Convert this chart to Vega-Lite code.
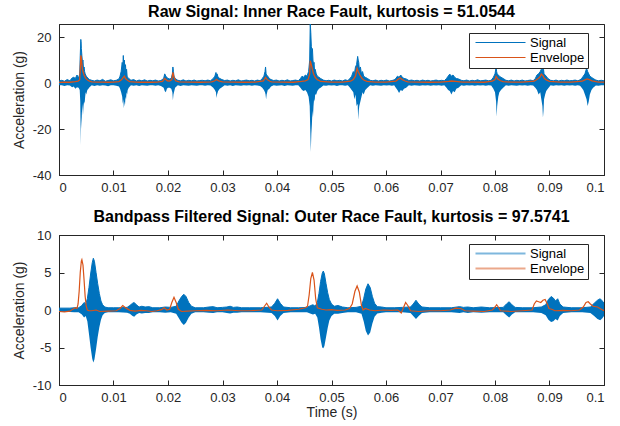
{
 "$schema": "https://vega.github.io/schema/vega-lite/v6.json",
 "padding": {"left": 11, "top": 3, "right": 4, "bottom": 4},
 "background": "white",
 "config": {
  "font": "Liberation Sans",
  "locale": {"number": {"decimal": ".", "thousands": ",", "grouping": [3], "currency": ["$", ""], "minus": "-"}},
  "view": {"stroke": "#262626", "strokeWidth": 1},
  "axis": {"domainColor": "#262626", "tickColor": "#262626", "labelColor": "#262626", "titleColor": "#262626", "labelFont": "Liberation Sans", "titleFont": "Liberation Sans", "labelFontSize": 13, "titleFontSize": 14, "titleFontWeight": "normal", "grid": false, "tickSize": -5},
  "axisX": {"labelPadding": 11},
  "axisY": {"labelPadding": 13},
  "title": {"fontSize": 16, "fontWeight": "bold", "font": "Liberation Sans", "color": "#000000", "offset": 4},
  "legend": {"labelFont": "Liberation Sans", "labelFontSize": 13, "labelColor": "#000000"},
  "concat": {"spacing": 13}
 },
 "datasets": {
  "raw": [
   {"t":0,"hi":0.9,"lo":-0.9},{"t":0.0005,"hi":1.2,"lo":-1.0},{"t":0.001,"hi":0.8,"lo":-1.3},{"t":0.0015,"hi":1.5,"lo":-0.9},{"t":0.002,"hi":1.0,"lo":-1.1},{"t":0.0024,"hi":2.2,"lo":-1.8},
   {"t":0.0027,"hi":2.5,"lo":-1.5},{"t":0.003,"hi":2.0,"lo":-2.5},{"t":0.0033,"hi":3.5,"lo":-1.8},{"t":0.0036,"hi":2.2,"lo":-2.0},{"t":0.0038,"hi":4.0,"lo":-3.0},{"t":0.0039,"hi":12,"lo":-8},{"t":0.004,"hi":19,"lo":-27},{"t":0.00405,"hi":18,"lo":-15},{"t":0.0041,"hi":15,"lo":-20},{"t":0.0042,"hi":12,"lo":-13},{"t":0.0043,"hi":9,"lo":-9},{"t":0.0044,"hi":10,"lo":-14},{"t":0.0045,"hi":6,"lo":-10},{"t":0.0046,"hi":7,"lo":-8},{"t":0.0047,"hi":5,"lo":-9},{"t":0.0048,"hi":4,"lo":-6},{"t":0.0049,"hi":3.5,"lo":-4},{"t":0.005,"hi":3,"lo":-5},{"t":0.0052,"hi":2.5,"lo":-3},{"t":0.0054,"hi":2,"lo":-2.5},{"t":0.0056,"hi":1.5,"lo":-1.8},
   {"t":0.006,"hi":1.2,"lo":-1.0},{"t":0.0065,"hi":0.9,"lo":-1.3},{"t":0.007,"hi":1.3,"lo":-0.9},{"t":0.0075,"hi":1.0,"lo":-1.2},{"t":0.008,"hi":1.6,"lo":-1.0},{"t":0.0085,"hi":0.8,"lo":-1.1},{"t":0.009,"hi":1.1,"lo":-1.4},{"t":0.0095,"hi":1.4,"lo":-0.9},{"t":0.01,"hi":1.0,"lo":-1.0},{"t":0.0105,"hi":1.2,"lo":-1.2},{"t":0.011,"hi":1.8,"lo":-1.5},
   {"t":0.0112,"hi":3,"lo":-2.5},{"t":0.0114,"hi":5,"lo":-4},{"t":0.0116,"hi":9,"lo":-6},{"t":0.0117,"hi":6,"lo":-9},{"t":0.0118,"hi":12,"lo":-7},{"t":0.0119,"hi":7,"lo":-11},{"t":0.012,"hi":10,"lo":-8},{"t":0.0121,"hi":5,"lo":-10},{"t":0.0122,"hi":8,"lo":-6},{"t":0.0123,"hi":4,"lo":-7},{"t":0.0124,"hi":6,"lo":-4},{"t":0.0125,"hi":3,"lo":-5},{"t":0.0126,"hi":2.5,"lo":-3},{"t":0.0128,"hi":2,"lo":-2},
   {"t":0.0132,"hi":1.2,"lo":-1.0},{"t":0.0137,"hi":1.5,"lo":-1.2},{"t":0.0142,"hi":0.9,"lo":-1.0},{"t":0.0147,"hi":1.3,"lo":-1.3},{"t":0.0152,"hi":1.0,"lo":-0.9},{"t":0.0157,"hi":1.4,"lo":-1.1},{"t":0.0162,"hi":0.9,"lo":-1.2},{"t":0.0167,"hi":1.2,"lo":-0.9},{"t":0.0172,"hi":1.0,"lo":-1.0},{"t":0.0177,"hi":1.3,"lo":-1.2},{"t":0.0182,"hi":0.9,"lo":-1.0},{"t":0.0187,"hi":1.1,"lo":-1.3},
   {"t":0.0192,"hi":2,"lo":-2},{"t":0.0194,"hi":4,"lo":-3.5},{"t":0.0196,"hi":3,"lo":-4},{"t":0.0198,"hi":2.5,"lo":-2.5},{"t":0.02,"hi":2,"lo":-2},{"t":0.0203,"hi":1.8,"lo":-2},{"t":0.0206,"hi":2,"lo":-2.5},{"t":0.0208,"hi":4,"lo":-4},{"t":0.0209,"hi":7,"lo":-7.5},{"t":0.021,"hi":5,"lo":-5},{"t":0.0211,"hi":3,"lo":-4},{"t":0.0213,"hi":2,"lo":-2},
   {"t":0.0218,"hi":1.2,"lo":-1.0},{"t":0.0223,"hi":1.0,"lo":-1.3},{"t":0.0228,"hi":1.4,"lo":-0.9},{"t":0.0233,"hi":0.9,"lo":-1.1},{"t":0.0238,"hi":1.2,"lo":-1.2},{"t":0.0243,"hi":1.0,"lo":-0.9},{"t":0.0248,"hi":1.3,"lo":-1.1},{"t":0.0253,"hi":0.9,"lo":-1.2},{"t":0.0258,"hi":1.1,"lo":-1.0},{"t":0.0263,"hi":1.2,"lo":-1.0},{"t":0.0268,"hi":1.0,"lo":-1.2},{"t":0.0273,"hi":1.3,"lo":-0.9},{"t":0.0278,"hi":1.0,"lo":-1.1},
   {"t":0.0283,"hi":2,"lo":-2},{"t":0.0286,"hi":3,"lo":-3},{"t":0.0288,"hi":4.6,"lo":-4},{"t":0.0289,"hi":3.5,"lo":-6.5},{"t":0.029,"hi":4,"lo":-5},{"t":0.0292,"hi":2.5,"lo":-3.5},{"t":0.0295,"hi":2,"lo":-2.5},{"t":0.0299,"hi":1.5,"lo":-1.8},
   {"t":0.0304,"hi":1.1,"lo":-1.0},{"t":0.0309,"hi":1.3,"lo":-1.2},{"t":0.0314,"hi":0.9,"lo":-1.0},{"t":0.0319,"hi":1.2,"lo":-1.3},{"t":0.0324,"hi":1.0,"lo":-0.9},{"t":0.0329,"hi":1.4,"lo":-1.1},{"t":0.0334,"hi":0.9,"lo":-1.2},{"t":0.0339,"hi":1.1,"lo":-1.0},{"t":0.0344,"hi":1.3,"lo":-1.1},{"t":0.0349,"hi":1.0,"lo":-0.9},{"t":0.0354,"hi":1.2,"lo":-1.2},{"t":0.0359,"hi":0.9,"lo":-1.0},{"t":0.0364,"hi":1.3,"lo":-1.1},{"t":0.0369,"hi":1.0,"lo":-1.3},
   {"t":0.0373,"hi":2,"lo":-2},{"t":0.0376,"hi":3,"lo":-3},{"t":0.0378,"hi":5,"lo":-4},{"t":0.0379,"hi":7,"lo":-5},{"t":0.038,"hi":4,"lo":-7},{"t":0.0381,"hi":3.5,"lo":-5},{"t":0.0383,"hi":3,"lo":-3},{"t":0.0386,"hi":2,"lo":-2.5},{"t":0.0389,"hi":1.5,"lo":-1.5},
   {"t":0.0394,"hi":1.1,"lo":-1.0},{"t":0.0399,"hi":1.3,"lo":-1.2},{"t":0.0404,"hi":0.9,"lo":-1.1},{"t":0.0409,"hi":1.2,"lo":-0.9},{"t":0.0414,"hi":1.0,"lo":-1.3},{"t":0.0419,"hi":1.4,"lo":-1.0},{"t":0.0424,"hi":0.9,"lo":-1.1},{"t":0.0429,"hi":1.1,"lo":-1.2},{"t":0.0434,"hi":1.3,"lo":-0.9},{"t":0.0439,"hi":1.0,"lo":-1.0},
   {"t":0.0443,"hi":2,"lo":-2},{"t":0.0446,"hi":3,"lo":-3},{"t":0.0449,"hi":2.5,"lo":-3.5},{"t":0.0452,"hi":3.5,"lo":-3},{"t":0.0455,"hi":3,"lo":-4},{"t":0.0458,"hi":5,"lo":-6},{"t":0.046,"hi":10,"lo":-10},{"t":0.0461,"hi":26,"lo":-20},{"t":0.0462,"hi":22,"lo":-30},{"t":0.0463,"hi":16,"lo":-22},{"t":0.0464,"hi":14,"lo":-18},{"t":0.0465,"hi":15,"lo":-12},{"t":0.0466,"hi":10,"lo":-15},{"t":0.0467,"hi":8,"lo":-10},{"t":0.0468,"hi":9,"lo":-7},{"t":0.0469,"hi":5,"lo":-8},{"t":0.047,"hi":6,"lo":-5},{"t":0.0472,"hi":4,"lo":-5},{"t":0.0474,"hi":3,"lo":-3.5},{"t":0.0477,"hi":2.5,"lo":-2.5},{"t":0.048,"hi":2,"lo":-2},
   {"t":0.0485,"hi":1.3,"lo":-1.1},{"t":0.049,"hi":1.0,"lo":-1.2},{"t":0.0495,"hi":1.2,"lo":-0.9},{"t":0.05,"hi":0.9,"lo":-1.1},{"t":0.0505,"hi":1.3,"lo":-1.0},{"t":0.051,"hi":1.0,"lo":-1.3},{"t":0.0515,"hi":1.2,"lo":-1.0},{"t":0.052,"hi":0.9,"lo":-0.9},{"t":0.0525,"hi":1.4,"lo":-1.2},{"t":0.053,"hi":1.1,"lo":-1.0},
   {"t":0.0534,"hi":2,"lo":-2},{"t":0.0537,"hi":3,"lo":-3},{"t":0.054,"hi":5,"lo":-4},{"t":0.0542,"hi":4,"lo":-7},{"t":0.0544,"hi":7,"lo":-5},{"t":0.0546,"hi":8,"lo":-10},{"t":0.0548,"hi":11.6,"lo":-9},{"t":0.0549,"hi":10,"lo":-16},{"t":0.055,"hi":9,"lo":-12},{"t":0.0551,"hi":6,"lo":-10},{"t":0.0553,"hi":7,"lo":-8},{"t":0.0555,"hi":4,"lo":-6},{"t":0.0557,"hi":5,"lo":-4},{"t":0.0559,"hi":3,"lo":-5},{"t":0.0562,"hi":2.5,"lo":-3},{"t":0.0566,"hi":2,"lo":-2},
   {"t":0.0571,"hi":1.2,"lo":-1.0},{"t":0.0576,"hi":1.0,"lo":-1.2},{"t":0.0581,"hi":1.3,"lo":-0.9},{"t":0.0586,"hi":0.9,"lo":-1.1},{"t":0.0591,"hi":1.2,"lo":-1.2},{"t":0.0596,"hi":1.0,"lo":-1.0},{"t":0.0601,"hi":1.3,"lo":-1.1},{"t":0.0606,"hi":0.9,"lo":-1.0},{"t":0.0611,"hi":1.1,"lo":-1.2},{"t":0.0615,"hi":1.4,"lo":-1.0},
   {"t":0.0618,"hi":2,"lo":-2},{"t":0.0621,"hi":3,"lo":-3},{"t":0.0624,"hi":2.5,"lo":-4.3},{"t":0.0627,"hi":3.5,"lo":-3},{"t":0.063,"hi":2.5,"lo":-3.5},{"t":0.0633,"hi":2,"lo":-2.5},{"t":0.0637,"hi":1.8,"lo":-2},
   {"t":0.0642,"hi":1.1,"lo":-1.0},{"t":0.0647,"hi":1.3,"lo":-1.2},{"t":0.0652,"hi":1.0,"lo":-0.9},{"t":0.0657,"hi":1.2,"lo":-1.1},{"t":0.0662,"hi":0.9,"lo":-1.2},{"t":0.0667,"hi":1.3,"lo":-1.0},{"t":0.0672,"hi":1.0,"lo":-1.1},{"t":0.0677,"hi":1.2,"lo":-0.9},{"t":0.0682,"hi":0.9,"lo":-1.2},{"t":0.0687,"hi":1.1,"lo":-1.0},{"t":0.0692,"hi":1.3,"lo":-1.1},{"t":0.0697,"hi":1.0,"lo":-1.0},{"t":0.0702,"hi":1.2,"lo":-1.2},{"t":0.0707,"hi":1.0,"lo":-1.0},
   {"t":0.0711,"hi":2,"lo":-2},{"t":0.0714,"hi":3,"lo":-3},{"t":0.0717,"hi":3.9,"lo":-3.5},{"t":0.072,"hi":3,"lo":-5},{"t":0.0723,"hi":3.5,"lo":-3.5},{"t":0.0726,"hi":2.5,"lo":-4},{"t":0.0729,"hi":2,"lo":-2.5},{"t":0.0733,"hi":1.8,"lo":-2},
   {"t":0.0738,"hi":1.2,"lo":-1.0},{"t":0.0743,"hi":1.0,"lo":-1.2},{"t":0.0748,"hi":1.3,"lo":-1.0},{"t":0.0753,"hi":0.9,"lo":-1.1},{"t":0.0758,"hi":1.2,"lo":-0.9},{"t":0.0763,"hi":1.0,"lo":-1.2},{"t":0.0768,"hi":1.4,"lo":-1.0},{"t":0.0773,"hi":1.0,"lo":-1.1},{"t":0.0778,"hi":1.1,"lo":-1.0},{"t":0.0783,"hi":1.3,"lo":-1.2},{"t":0.0788,"hi":1.0,"lo":-0.9},{"t":0.0793,"hi":1.2,"lo":-1.1},
   {"t":0.0797,"hi":2.5,"lo":-2.5},{"t":0.08,"hi":4,"lo":-4},{"t":0.0802,"hi":6.8,"lo":-8},{"t":0.0803,"hi":5,"lo":-14.6},{"t":0.0804,"hi":4,"lo":-10},{"t":0.0806,"hi":3.5,"lo":-6},{"t":0.0808,"hi":3,"lo":-4},{"t":0.0811,"hi":2.5,"lo":-3},{"t":0.0815,"hi":2,"lo":-2},
   {"t":0.082,"hi":1.2,"lo":-1.0},{"t":0.0825,"hi":1.0,"lo":-1.2},{"t":0.083,"hi":1.3,"lo":-0.9},{"t":0.0835,"hi":0.9,"lo":-1.1},{"t":0.084,"hi":1.2,"lo":-1.2},{"t":0.0845,"hi":1.0,"lo":-1.0},{"t":0.085,"hi":1.3,"lo":-1.1},{"t":0.0855,"hi":0.9,"lo":-1.0},{"t":0.086,"hi":1.1,"lo":-1.2},{"t":0.0865,"hi":1.3,"lo":-1.0},{"t":0.087,"hi":1.0,"lo":-1.1},
   {"t":0.0874,"hi":2,"lo":-2},{"t":0.0877,"hi":3.5,"lo":-3},{"t":0.088,"hi":4,"lo":-5},{"t":0.0883,"hi":5,"lo":-4},{"t":0.0885,"hi":6,"lo":-7},{"t":0.0887,"hi":6.8,"lo":-10},{"t":0.0888,"hi":5,"lo":-15},{"t":0.0889,"hi":6,"lo":-12},{"t":0.089,"hi":4,"lo":-7},{"t":0.0892,"hi":3.5,"lo":-5},{"t":0.0894,"hi":3,"lo":-3.5},{"t":0.0897,"hi":2,"lo":-2.5},
   {"t":0.0902,"hi":1.2,"lo":-1.0},{"t":0.0907,"hi":1.0,"lo":-1.2},{"t":0.0912,"hi":1.3,"lo":-1.0},{"t":0.0917,"hi":0.9,"lo":-1.1},{"t":0.0922,"hi":1.2,"lo":-0.9},{"t":0.0927,"hi":1.0,"lo":-1.2},{"t":0.0932,"hi":1.3,"lo":-1.0},{"t":0.0937,"hi":1.0,"lo":-1.1},{"t":0.0942,"hi":1.1,"lo":-1.0},{"t":0.0947,"hi":1.3,"lo":-1.2},{"t":0.0952,"hi":1.0,"lo":-0.9},{"t":0.0956,"hi":1.4,"lo":-1.2},
   {"t":0.0959,"hi":2,"lo":-2},{"t":0.0962,"hi":3,"lo":-3},{"t":0.0965,"hi":4,"lo":-5},{"t":0.0968,"hi":6.4,"lo":-7},{"t":0.097,"hi":5,"lo":-10},{"t":0.0972,"hi":4,"lo":-8},{"t":0.0974,"hi":3,"lo":-5},{"t":0.0977,"hi":2.5,"lo":-3},{"t":0.098,"hi":2,"lo":-2},
   {"t":0.0985,"hi":1.3,"lo":-1.1},{"t":0.099,"hi":1.0,"lo":-1.2},{"t":0.0995,"hi":1.2,"lo":-1.0},{"t":0.1,"hi":1.0,"lo":-1.0}
  ],
  "rawenv": [
   {"t":0,"env":0.3},{"t":0.001,"env":0.4},{"t":0.002,"env":0.35},{"t":0.003,"env":0.6},{"t":0.0035,"env":0.8},{"t":0.0038,"env":1.5},{"t":0.0039,"env":6},{"t":0.004,"env":12},{"t":0.0041,"env":11},{"t":0.0042,"env":8},{"t":0.0043,"env":6},{"t":0.0044,"env":5},{"t":0.0046,"env":3.5},{"t":0.0048,"env":2.5},{"t":0.005,"env":1.8},{"t":0.0053,"env":1.2},{"t":0.0056,"env":0.8},{"t":0.006,"env":0.5},{"t":0.007,"env":0.4},{"t":0.008,"env":0.45},{"t":0.009,"env":0.35},{"t":0.01,"env":0.4},
   {"t":0.011,"env":0.6},{"t":0.0115,"env":1.5},{"t":0.0118,"env":2.5},{"t":0.012,"env":3},{"t":0.0122,"env":2},{"t":0.0124,"env":1.6},{"t":0.0127,"env":1.0},{"t":0.013,"env":0.6},{"t":0.014,"env":0.4},{"t":0.015,"env":0.35},{"t":0.016,"env":0.4},{"t":0.017,"env":0.35},{"t":0.018,"env":0.4},
   {"t":0.019,"env":0.7},{"t":0.0194,"env":2},{"t":0.0196,"env":1.6},{"t":0.0199,"env":1.0},{"t":0.0203,"env":0.9},{"t":0.0207,"env":1.5},{"t":0.0209,"env":4.7},{"t":0.0211,"env":2.5},{"t":0.0214,"env":1.0},{"t":0.022,"env":0.5},{"t":0.024,"env":0.4},{"t":0.026,"env":0.35},
   {"t":0.028,"env":0.5},{"t":0.0286,"env":1.0},{"t":0.0289,"env":1.6},{"t":0.0293,"env":0.9},{"t":0.03,"env":0.5},{"t":0.032,"env":0.4},{"t":0.034,"env":0.35},{"t":0.036,"env":0.4},
   {"t":0.0375,"env":0.9},{"t":0.0379,"env":2.5},{"t":0.0382,"env":1.5},{"t":0.0387,"env":0.8},{"t":0.039,"env":0.5},{"t":0.041,"env":0.4},{"t":0.043,"env":0.35},
   {"t":0.0445,"env":0.7},{"t":0.0452,"env":1.0},{"t":0.0457,"env":1.5},{"t":0.046,"env":4},{"t":0.0461,"env":9.7},{"t":0.0463,"env":8},{"t":0.0465,"env":6},{"t":0.0467,"env":4},{"t":0.047,"env":2.5},{"t":0.0474,"env":1.5},{"t":0.0478,"env":1.0},{"t":0.048,"env":0.7},{"t":0.05,"env":0.4},{"t":0.052,"env":0.45},
   {"t":0.0535,"env":0.8},{"t":0.054,"env":1.5},{"t":0.0544,"env":3},{"t":0.0547,"env":6.4},{"t":0.0549,"env":5},{"t":0.0552,"env":3.5},{"t":0.0556,"env":2},{"t":0.056,"env":1.2},{"t":0.0565,"env":0.7},{"t":0.058,"env":0.4},{"t":0.06,"env":0.4},
   {"t":0.0618,"env":0.8},{"t":0.0622,"env":1.6},{"t":0.0626,"env":2.2},{"t":0.063,"env":1.5},{"t":0.0635,"env":0.9},{"t":0.064,"env":0.5},{"t":0.066,"env":0.4},{"t":0.068,"env":0.35},{"t":0.07,"env":0.45},
   {"t":0.0715,"env":0.7},{"t":0.072,"env":0.9},{"t":0.0728,"env":0.7},{"t":0.074,"env":0.45},{"t":0.076,"env":0.4},{"t":0.078,"env":0.35},
   {"t":0.0795,"env":0.8},{"t":0.08,"env":1.5},{"t":0.0802,"env":2.9},{"t":0.0805,"env":1.8},{"t":0.081,"env":1.0},{"t":0.0815,"env":0.6},{"t":0.083,"env":0.4},{"t":0.085,"env":0.4},
   {"t":0.0872,"env":0.8},{"t":0.0878,"env":1.8},{"t":0.0882,"env":2.5},{"t":0.0885,"env":3.9},{"t":0.0888,"env":3.2},{"t":0.089,"env":2.2},{"t":0.0894,"env":1.4},{"t":0.09,"env":0.7},{"t":0.092,"env":0.4},{"t":0.094,"env":0.4},
   {"t":0.096,"env":0.8},{"t":0.0965,"env":1.4},{"t":0.0969,"env":1.8},{"t":0.0973,"env":1.5},{"t":0.0978,"env":1.0},{"t":0.0985,"env":0.6},{"t":0.099,"env":0.45},{"t":0.1,"env":0.4}
  ],
  "bp": [
   {"t":0,"hi":0.25,"lo":-0.25},{"t":0.002,"hi":0.25,"lo":-0.25},{"t":0.0028,"hi":0.3,"lo":-0.3},{"t":0.0036,"hi":0.3,"lo":-0.3},{"t":0.0042,"hi":0.6,"lo":-0.6},{"t":0.0046,"hi":1.0,"lo":-1.0},{"t":0.0049,"hi":0.8,"lo":-0.8},
   {"t":0.0052,"hi":1.5,"lo":-1.5},{"t":0.0055,"hi":3.0,"lo":-3.2},{"t":0.0058,"hi":4.8,"lo":-5.0},{"t":0.0061,"hi":6.3,"lo":-6.5},{"t":0.0063,"hi":6.9,"lo":-7.0},{"t":0.0065,"hi":6.5,"lo":-6.6},{"t":0.0068,"hi":5.0,"lo":-5.2},{"t":0.0071,"hi":3.5,"lo":-3.6},{"t":0.0074,"hi":2.2,"lo":-2.3},{"t":0.0077,"hi":1.2,"lo":-1.3},{"t":0.008,"hi":0.7,"lo":-0.7},{"t":0.0084,"hi":0.4,"lo":-0.4},
   {"t":0.009,"hi":0.3,"lo":-0.3},{"t":0.01,"hi":0.3,"lo":-0.3},{"t":0.011,"hi":0.3,"lo":-0.3},{"t":0.0125,"hi":0.35,"lo":-0.35},{"t":0.013,"hi":0.6,"lo":-0.5},{"t":0.0135,"hi":0.9,"lo":-0.8},{"t":0.0138,"hi":1.0,"lo":-0.9},{"t":0.0142,"hi":0.7,"lo":-0.6},{"t":0.0147,"hi":0.4,"lo":-0.4},{"t":0.0152,"hi":0.5,"lo":-0.45},{"t":0.0158,"hi":0.4,"lo":-0.4},{"t":0.0165,"hi":0.45,"lo":-0.4},{"t":0.0172,"hi":0.3,"lo":-0.3},{"t":0.0185,"hi":0.3,"lo":-0.3},{"t":0.0195,"hi":0.4,"lo":-0.35},{"t":0.0205,"hi":0.35,"lo":-0.3},
   {"t":0.0215,"hi":0.5,"lo":-0.5},{"t":0.022,"hi":1.2,"lo":-1.1},{"t":0.0225,"hi":1.8,"lo":-1.7},{"t":0.0229,"hi":2.1,"lo":-2.0},{"t":0.0233,"hi":1.8,"lo":-1.7},{"t":0.0238,"hi":1.0,"lo":-1.0},{"t":0.0243,"hi":0.5,"lo":-0.5},{"t":0.025,"hi":0.3,"lo":-0.3},{"t":0.0265,"hi":0.3,"lo":-0.3},{"t":0.0275,"hi":0.4,"lo":-0.35},{"t":0.0283,"hi":0.45,"lo":-0.4},{"t":0.029,"hi":0.3,"lo":-0.3},{"t":0.03,"hi":0.35,"lo":-0.3},{"t":0.0308,"hi":0.4,"lo":-0.4},{"t":0.0314,"hi":0.5,"lo":-0.45},{"t":0.032,"hi":0.35,"lo":-0.35},{"t":0.0327,"hi":0.4,"lo":-0.35},{"t":0.0335,"hi":0.3,"lo":-0.3},{"t":0.035,"hi":0.3,"lo":-0.3},{"t":0.037,"hi":0.3,"lo":-0.3},
   {"t":0.039,"hi":0.4,"lo":-0.4},{"t":0.0396,"hi":0.9,"lo":-0.8},{"t":0.0401,"hi":1.5,"lo":-1.4},{"t":0.0406,"hi":0.9,"lo":-0.8},{"t":0.0412,"hi":0.4,"lo":-0.4},{"t":0.0425,"hi":0.3,"lo":-0.3},{"t":0.044,"hi":0.3,"lo":-0.3},{"t":0.0455,"hi":0.35,"lo":-0.3},{"t":0.0462,"hi":0.6,"lo":-0.5},{"t":0.0466,"hi":0.7,"lo":-0.6},{"t":0.047,"hi":0.5,"lo":-0.5},
   {"t":0.0474,"hi":1.0,"lo":-1.0},{"t":0.0477,"hi":2.2,"lo":-2.3},{"t":0.048,"hi":3.8,"lo":-3.9},{"t":0.0483,"hi":4.9,"lo":-5.0},{"t":0.0485,"hi":5.2,"lo":-5.1},{"t":0.0487,"hi":4.8,"lo":-4.8},{"t":0.049,"hi":3.5,"lo":-3.6},{"t":0.0493,"hi":2.3,"lo":-2.4},{"t":0.0496,"hi":1.4,"lo":-1.4},{"t":0.05,"hi":0.8,"lo":-0.8},{"t":0.0505,"hi":0.5,"lo":-0.5},{"t":0.0512,"hi":0.6,"lo":-0.5},{"t":0.052,"hi":0.4,"lo":-0.4},{"t":0.053,"hi":0.3,"lo":-0.3},{"t":0.0545,"hi":0.35,"lo":-0.3},
   {"t":0.0555,"hi":0.5,"lo":-0.5},{"t":0.0559,"hi":1.5,"lo":-1.5},{"t":0.0563,"hi":2.8,"lo":-2.8},{"t":0.0567,"hi":3.5,"lo":-3.4},{"t":0.0571,"hi":3.0,"lo":-3.0},{"t":0.0575,"hi":1.8,"lo":-1.8},{"t":0.0579,"hi":0.9,"lo":-0.9},{"t":0.0584,"hi":0.45,"lo":-0.45},{"t":0.0592,"hi":0.4,"lo":-0.35},{"t":0.06,"hi":0.3,"lo":-0.3},{"t":0.0615,"hi":0.3,"lo":-0.3},{"t":0.063,"hi":0.35,"lo":-0.3},
   {"t":0.0645,"hi":0.4,"lo":-0.4},{"t":0.065,"hi":0.8,"lo":-0.8},{"t":0.0655,"hi":1.3,"lo":-1.2},{"t":0.066,"hi":0.8,"lo":-0.8},{"t":0.0666,"hi":0.4,"lo":-0.4},{"t":0.068,"hi":0.3,"lo":-0.3},{"t":0.07,"hi":0.3,"lo":-0.3},{"t":0.072,"hi":0.3,"lo":-0.3},{"t":0.0735,"hi":0.45,"lo":-0.4},{"t":0.0742,"hi":0.35,"lo":-0.3},{"t":0.075,"hi":0.4,"lo":-0.4},{"t":0.076,"hi":0.3,"lo":-0.3},{"t":0.0775,"hi":0.4,"lo":-0.35},{"t":0.079,"hi":0.3,"lo":-0.3},
   {"t":0.0815,"hi":0.35,"lo":-0.3},{"t":0.0821,"hi":0.8,"lo":-0.7},{"t":0.0826,"hi":1.1,"lo":-1.0},{"t":0.0831,"hi":0.7,"lo":-0.6},{"t":0.0837,"hi":0.35,"lo":-0.3},{"t":0.085,"hi":0.3,"lo":-0.3},{"t":0.087,"hi":0.3,"lo":-0.3},
   {"t":0.0885,"hi":0.4,"lo":-0.4},{"t":0.0893,"hi":0.7,"lo":-0.7},{"t":0.0898,"hi":1.4,"lo":-1.3},{"t":0.0903,"hi":1.8,"lo":-1.6},{"t":0.0907,"hi":1.6,"lo":-1.5},{"t":0.0911,"hi":1.2,"lo":-1.2},{"t":0.0915,"hi":1.5,"lo":-1.4},{"t":0.0919,"hi":0.8,"lo":-0.8},{"t":0.0925,"hi":0.4,"lo":-0.4},{"t":0.094,"hi":0.3,"lo":-0.3},{"t":0.096,"hi":0.3,"lo":-0.3},
   {"t":0.0975,"hi":0.4,"lo":-0.4},{"t":0.0982,"hi":0.9,"lo":-0.8},{"t":0.0988,"hi":1.3,"lo":-1.2},{"t":0.0993,"hi":1.5,"lo":-1.35},{"t":0.0997,"hi":1.2,"lo":-1.1},{"t":0.1,"hi":0.9,"lo":-0.8}
  ],
  "bpenv": [
   {"t":0,"env":-0.2},{"t":0.001,"env":-0.25},{"t":0.002,"env":-0.15},{"t":0.0025,"env":0.1},{"t":0.003,"env":0.3},{"t":0.0033,"env":0.2},{"t":0.0035,"env":0.8},{"t":0.0037,"env":2.5},{"t":0.0039,"env":5.0},{"t":0.0041,"env":6.5},{"t":0.0042,"env":6.7},{"t":0.0044,"env":6.0},{"t":0.0046,"env":4.0},{"t":0.0048,"env":1.8},{"t":0.005,"env":0.5},{"t":0.0052,"env":0.0},{"t":0.0055,"env":-0.1},{"t":0.006,"env":-0.1},{"t":0.0068,"env":0.0},{"t":0.0075,"env":-0.2},{"t":0.009,"env":-0.15},{"t":0.0105,"env":-0.1},
   {"t":0.0112,"env":0.2},{"t":0.0117,"env":0.6},{"t":0.0122,"env":0.3},{"t":0.013,"env":-0.05},{"t":0.014,"env":-0.15},{"t":0.015,"env":-0.05},{"t":0.016,"env":-0.1},{"t":0.017,"env":-0.2},{"t":0.018,"env":-0.1},{"t":0.0188,"env":0.05},{"t":0.0193,"env":0.3},{"t":0.0198,"env":0.0},{"t":0.0203,"env":0.1},{"t":0.0207,"env":1.0},{"t":0.0211,"env":1.7},{"t":0.0215,"env":1.0},{"t":0.0219,"env":0.1},{"t":0.0225,"env":-0.2},{"t":0.0235,"env":-0.15},
   {"t":0.025,"env":-0.1},{"t":0.027,"env":-0.05},{"t":0.029,"env":-0.1},{"t":0.031,"env":0.0},{"t":0.033,"env":-0.1},{"t":0.035,"env":-0.1},{"t":0.0372,"env":0.0},{"t":0.0377,"env":0.5},{"t":0.0381,"env":0.9},{"t":0.0386,"env":0.3},{"t":0.039,"env":0.0},{"t":0.04,"env":-0.1},{"t":0.042,"env":-0.05},{"t":0.044,"env":0.1},
   {"t":0.0452,"env":0.3},{"t":0.0456,"env":0.5},{"t":0.0459,"env":2.0},{"t":0.0462,"env":4.2},{"t":0.0465,"env":5.0},{"t":0.0468,"env":4.0},{"t":0.0471,"env":1.5},{"t":0.0474,"env":0.3},{"t":0.0478,"env":0.2},{"t":0.0482,"env":0.1},{"t":0.049,"env":0.0},{"t":0.05,"env":0.05},{"t":0.051,"env":-0.05},{"t":0.0525,"env":0.0},
   {"t":0.0533,"env":0.2},{"t":0.0538,"env":0.8},{"t":0.0543,"env":2.5},{"t":0.0547,"env":3.2},{"t":0.0551,"env":2.4},{"t":0.0555,"env":0.6},{"t":0.0558,"env":0.0},{"t":0.0562,"env":0.2},{"t":0.057,"env":0.0},{"t":0.058,"env":-0.1},{"t":0.0595,"env":0.0},{"t":0.061,"env":-0.05},
   {"t":0.0622,"env":0.0},{"t":0.0628,"env":-0.4},{"t":0.0632,"env":0.3},{"t":0.0636,"env":1.0},{"t":0.064,"env":0.6},{"t":0.0645,"env":-0.1},{"t":0.066,"env":-0.2},{"t":0.068,"env":-0.1},{"t":0.07,"env":-0.1},{"t":0.0718,"env":0.0},{"t":0.0728,"env":0.25},{"t":0.0737,"env":0.2},{"t":0.0745,"env":-0.1},{"t":0.076,"env":-0.15},{"t":0.078,"env":-0.2},
   {"t":0.0795,"env":0.0},{"t":0.08,"env":0.4},{"t":0.0803,"env":0.7},{"t":0.0807,"env":0.3},{"t":0.081,"env":-0.1},{"t":0.083,"env":-0.2},{"t":0.085,"env":-0.1},
   {"t":0.0868,"env":0.0},{"t":0.0872,"env":0.8},{"t":0.0876,"env":1.2},{"t":0.088,"env":1.1},{"t":0.0884,"env":1.0},{"t":0.0888,"env":1.3},{"t":0.0892,"env":1.4},{"t":0.0896,"env":0.8},{"t":0.0899,"env":0.2},{"t":0.0904,"env":0.1},{"t":0.091,"env":-0.1},{"t":0.0925,"env":-0.05},{"t":0.094,"env":-0.1},
   {"t":0.0955,"env":0.0},{"t":0.0962,"env":0.4},{"t":0.0967,"env":1.0},{"t":0.0971,"env":1.1},{"t":0.0975,"env":0.8},{"t":0.098,"env":0.5},{"t":0.0988,"env":0.4},{"t":0.0995,"env":0.1},{"t":0.1,"env":-0.1}
  ]
 },
 "vconcat": [
  {
   "width": 545, "height": 151,
   "title": "Raw Signal: Inner Race Fault, kurtosis = 51.0544",
   "resolve": {"axis": {"x": "independent", "y": "independent"}},
   "layer": [
    {
     "data": {"name": "raw"},
     "mark": {"type": "area", "color": "#0072BD", "clip": true},
     "encoding": {
      "x": {"field": "t", "type": "quantitative", "scale": {"domain": [0, 0.1], "nice": false, "zero": false}, "axis": {"values": [0,0.01,0.02,0.03,0.04,0.05,0.06,0.07,0.08,0.09,0.1], "format": "~f", "title": null}},
      "y": {"field": "hi", "type": "quantitative", "scale": {"domain": [-40, 25.7], "nice": false, "zero": false}, "axis": {"values": [-40,-20,0,20], "format": "~f", "title": "Acceleration (g)", "titlePadding": 6}},
      "y2": {"field": "lo"}
     }
    },
    {
     "data": {"name": "raw"},
     "mark": {"type": "line", "strokeWidth": 1, "clip": true},
     "encoding": {
      "x": {"field": "t", "type": "quantitative", "axis": {"orient": "top", "values": [0,0.01,0.02,0.03,0.04,0.05,0.06,0.07,0.08,0.09,0.1], "labels": false, "domain": false, "title": null}},
      "y": {"field": "hi", "type": "quantitative", "axis": {"orient": "right", "values": [-40,-20,0,20], "labels": false, "domain": false, "title": null}},
      "color": {"datum": "Signal", "type": "nominal", "scale": {"domain": ["Signal", "Envelope"], "range": ["#0072BD", "#D95319"]},
       "legend": {"title": null, "orient": "none", "legendX": 410, "legendY": 9, "symbolType": "M-5,0H5", "symbolSize": 100, "symbolOffset": 22, "symbolStrokeWidth": 1.2, "strokeColor": "#262626", "fillColor": "white", "padding": 3, "rowPadding": 1, "labelOffset": 23, "labelFontSize": 13}}
     }
    },
    {
     "data": {"name": "rawenv"},
     "mark": {"type": "line", "strokeWidth": 1.3, "clip": true},
     "encoding": {
      "x": {"field": "t", "type": "quantitative", "axis": null},
      "y": {"field": "env", "type": "quantitative", "axis": null},
      "color": {"datum": "Envelope", "type": "nominal"}
     }
    }
   ]
  },
  {
   "width": 545, "height": 150,
   "title": "Bandpass Filtered Signal: Outer Race Fault, kurtosis = 97.5741",
   "resolve": {"axis": {"x": "independent", "y": "independent"}},
   "layer": [
    {
     "data": {"name": "bp"},
     "mark": {"type": "area", "color": "#0072BD", "clip": true},
     "encoding": {
      "x": {"field": "t", "type": "quantitative", "scale": {"domain": [0, 0.1], "nice": false, "zero": false}, "axis": {"values": [0,0.01,0.02,0.03,0.04,0.05,0.06,0.07,0.08,0.09,0.1], "format": "~f", "title": "Time (s)", "titlePadding": 1}},
      "y": {"field": "hi", "type": "quantitative", "scale": {"domain": [-10, 10], "nice": false, "zero": false}, "axis": {"values": [-10,-5,0,5,10], "format": "~f", "title": "Acceleration (g)", "titlePadding": 6}},
      "y2": {"field": "lo"}
     }
    },
    {
     "data": {"name": "bp"},
     "mark": {"type": "line", "strokeWidth": 1, "clip": true},
     "encoding": {
      "x": {"field": "t", "type": "quantitative", "axis": {"orient": "top", "values": [0,0.01,0.02,0.03,0.04,0.05,0.06,0.07,0.08,0.09,0.1], "labels": false, "domain": false, "title": null}},
      "y": {"field": "hi", "type": "quantitative", "axis": {"orient": "right", "values": [-10,-5,0,5,10], "labels": false, "domain": false, "title": null}},
      "color": {"datum": "Signal", "type": "nominal", "scale": {"domain": ["Signal", "Envelope"], "range": ["#0072BD", "#D95319"]},
       "legend": {"title": null, "orient": "none", "legendX": 410, "legendY": 9, "symbolType": "M-5,0H5", "symbolSize": 100, "symbolOffset": 22, "symbolStrokeWidth": 2, "symbolOpacity": 0.5, "strokeColor": "#262626", "fillColor": "white", "padding": 3, "rowPadding": 1, "labelOffset": 23, "labelFontSize": 13}}
     }
    },
    {
     "data": {"name": "bpenv"},
     "mark": {"type": "line", "strokeWidth": 1.2, "clip": true},
     "encoding": {
      "x": {"field": "t", "type": "quantitative", "axis": null},
      "y": {"field": "env", "type": "quantitative", "axis": null},
      "color": {"datum": "Envelope", "type": "nominal"}
     }
    }
   ]
  }
 ],
 "resolve": {"scale": {"color": "independent"}, "legend": {"color": "independent"}}
}
